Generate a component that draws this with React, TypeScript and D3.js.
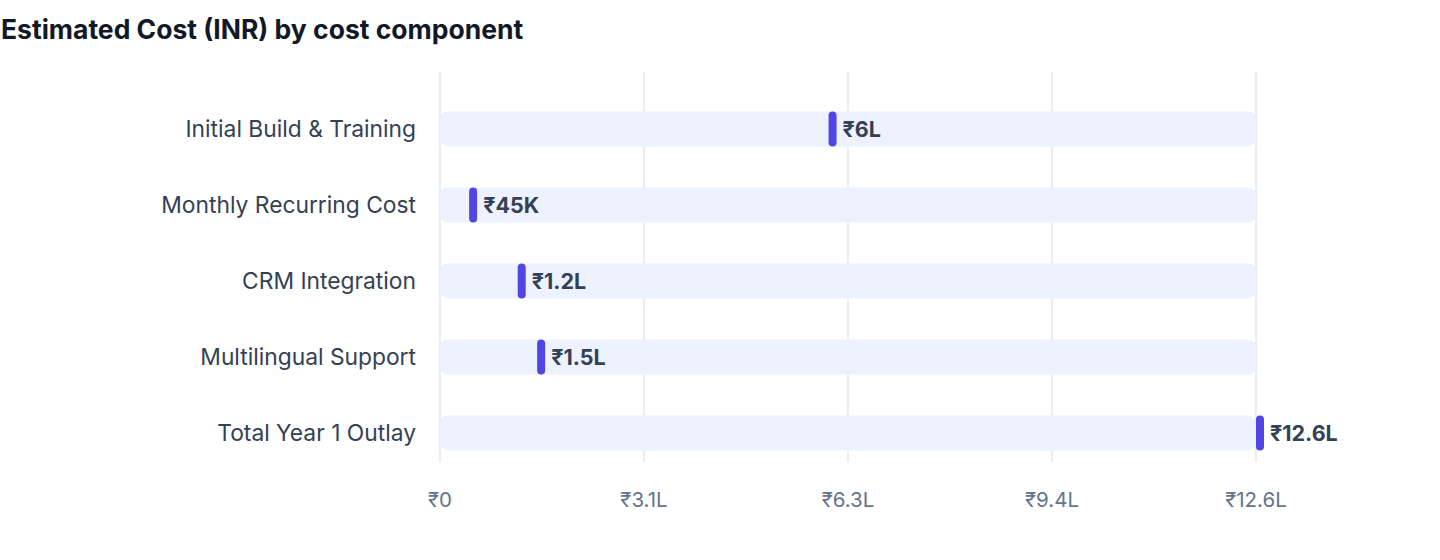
import * as d3 from "d3";
import { useEffect, useRef } from "react";

const categories = [
  "Initial Build & Training",
  "Monthly Recurring Cost",
  "CRM Integration",
  "Multilingual Support",
  "Total Year 1 Outlay",
];
const costs = [600000, 45000, 120000, 150000, 1260000];
const valueLabels = ["₹6L", "₹45K", "₹1.2L", "₹1.5L", "₹12.6L"];
const axisMax = 1260000;

const WIDTH = 1440;
const HEIGHT = 560;
const FONT = "Inter, 'Liberation Sans', Arial, sans-serif";

function formatInr(v: number) {
  if (v === 0) return "₹0";
  if (v >= 100000) return `₹${(Math.floor((v / 100000) * 10) / 10).toString()}L`;
  return `₹${Math.round(v / 1000)}K`;
}

export default function App() {
  const ref = useRef<SVGSVGElement>(null);

  useEffect(() => {
    document.body.style.margin = "0";
    if (!ref.current) return;
    const svg = d3.select(ref.current);
    svg.selectAll("*").remove();

    const margin = { left: 440, right: 184, top: 72, bottom: 98 };

    const x = d3
      .scaleLinear()
      .domain([0, axisMax])
      .range([margin.left, WIDTH - margin.right]);

    const y = d3
      .scaleBand<string>()
      .domain(categories)
      .range([91, 471])
      .paddingInner(0.54)
      .paddingOuter(0.27);

    svg
      .append("text")
      .attr("x", 1)
      .attr("y", 39)
      .style("font-family", FONT)
      .style("font-size", "26.5px")
      .style("font-weight", "700")
      .style("fill", "#111827")
      .text("Estimated Cost (INR) by cost component");

    const ticks = d3.range(0, 5).map((i) => (axisMax / 4) * i);

    // grid
    svg
      .append("g")
      .selectAll("line")
      .data(ticks)
      .join("line")
      .attr("x1", (d) => x(d))
      .attr("x2", (d) => x(d))
      .attr("y1", margin.top)
      .attr("y2", 462)
      .attr("stroke", "#e2e8f0")
      .attr("stroke-width", 1.5);

    svg
      .append("g")
      .selectAll("text")
      .data(ticks)
      .join("text")
      .attr("x", (d) => x(d))
      .attr("y", 507)
      .attr("text-anchor", "middle")
      .style("font-family", FONT)
      .style("font-size", "20.5px")
      .style("fill", "#64748b")
      .text((d) => formatInr(d));

    const rows = categories.map((c, i) => ({ c, v: costs[i], label: valueLabels[i] }));

    // track
    svg
      .append("g")
      .selectAll("rect")
      .data(rows)
      .join("rect")
      .attr("x", x(0))
      .attr("y", (d) => y(d.c)!)
      .attr("width", x(axisMax) - x(0))
      .attr("height", y.bandwidth())
      .attr("rx", 8)
      .attr("fill", "#eef2ff");

    // markers
    svg
      .append("g")
      .selectAll("rect")
      .data(rows)
      .join("rect")
      .attr("x", (d) => x(d.v))
      .attr("y", (d) => y(d.c)!)
      .attr("width", 8)
      .attr("height", y.bandwidth())
      .attr("rx", 4)
      .attr("fill", "#4f46e5");

    svg
      .append("g")
      .selectAll("text")
      .data(rows)
      .join("text")
      .attr("x", (d) => x(d.v) + 14)
      .attr("y", (d) => y(d.c)! + y.bandwidth() / 2)
      .attr("dy", "0.36em")
      .style("font-family", FONT)
      .style("font-size", "21.5px")
      .style("font-weight", "700")
      .style("fill", "#334155")
      .text((d) => d.label);

    svg
      .append("g")
      .selectAll("text")
      .data(rows)
      .join("text")
      .attr("x", 416)
      .attr("y", (d) => y(d.c)! + y.bandwidth() / 2)
      .attr("dy", "0.36em")
      .attr("text-anchor", "end")
      .style("font-family", FONT)
      .style("font-size", "22.8px")
      .style("fill", "#334155")
      .text((d) => d.c);
  }, []);

  return <svg ref={ref} width={WIDTH} height={HEIGHT} style={{ display: "block" }} />;
}
